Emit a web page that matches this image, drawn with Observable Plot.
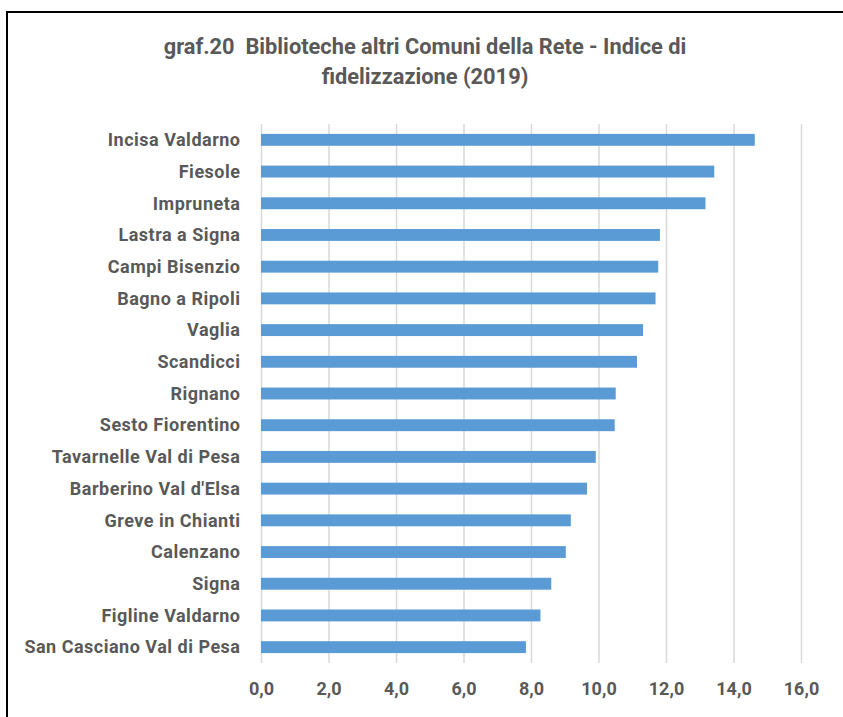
<!DOCTYPE html>
<html>
<head>
<meta charset="utf-8">
<script src="https://cdn.jsdelivr.net/npm/d3@7"></script>
<script src="https://cdn.jsdelivr.net/npm/@observablehq/plot@0.6"></script>
<style>
  html, body { margin: 0; padding: 0; background: #fff; width: 843px; height: 717px; overflow: hidden; }
  #frame { position: absolute; left: 6px; top: 11px; width: 900px; height: 800px; border: 2px solid #000; box-sizing: border-box; z-index: 5; pointer-events: none; }
  #title { position: absolute; left: 0; width: 850px; top: 32px; text-align: center;
    font-family: Roboto, sans-serif; font-weight: bold; font-size: 21.8px; line-height: 30px; color: #595959; }
  #chart { position: absolute; left: 0; top: 115px; }
</style>
</head>
<body>
<div id="frame"></div>
<div id="title">graf.20&nbsp; Biblioteche altri Comuni della Rete - Indice di<br>fidelizzazione (2019)</div>
<div id="chart"></div>
<script>
const comuni = [
  "Incisa Valdarno", "Fiesole", "Impruneta", "Lastra a Signa", "Campi Bisenzio",
  "Bagno a Ripoli", "Vaglia", "Scandicci", "Rignano", "Sesto Fiorentino",
  "Tavarnelle Val di Pesa", "Barberino Val d'Elsa", "Greve in Chianti", "Calenzano",
  "Signa", "Figline Valdarno", "San Casciano Val di Pesa"
];
const indice = [14.63, 13.43, 13.17, 11.82, 11.77, 11.69, 11.32, 11.14, 10.51, 10.48, 9.92, 9.66, 9.18, 9.03, 8.60, 8.28, 7.85];
const xTicks = [0, 2, 4, 6, 8, 10, 12, 14, 16];

const data = comuni.map((c, i) => ({comune: c, valore: indice[i]}));
const fmt = d => d.toFixed(1).replace(".", ",");

const plot = Plot.plot({
  width: 843,
  height: 593,
  marginLeft: 261,
  marginRight: 42,
  marginTop: 9,
  marginBottom: 45,
  style: { fontFamily: "Roboto, sans-serif", fontWeight: "bold", fontSize: "18px", color: "#595959", background: "transparent", overflow: "visible" },
  x: { domain: [0, 16], ticks: xTicks, tickFormat: fmt, label: null },
  y: { domain: comuni, padding: 0, round: false, label: null },
  marks: [
    Plot.ruleX(xTicks, { stroke: "#d9d9d9", strokeWidth: 1.5 }),
    Plot.barX(data, { x: "valore", y: "comune", fill: "#5b9bd5", insetTop: 9.9, insetBottom: 9.9 }),
    Plot.axisX({ ticks: xTicks, tickFormat: fmt, tickSize: 0, tickPadding: 19, fill: "#595959", fontSize: 18, label: null }),
    Plot.axisY({ tickSize: 0, tickPadding: 21, fill: "#595959", fontSize: 18, letterSpacing: 0.5, label: null })
  ]
});
plot.querySelectorAll("[aria-label='y-axis tick label'] text").forEach(t => t.style.letterSpacing = "0.5px");
document.getElementById("chart").appendChild(plot);
</script>
</body>
</html>
